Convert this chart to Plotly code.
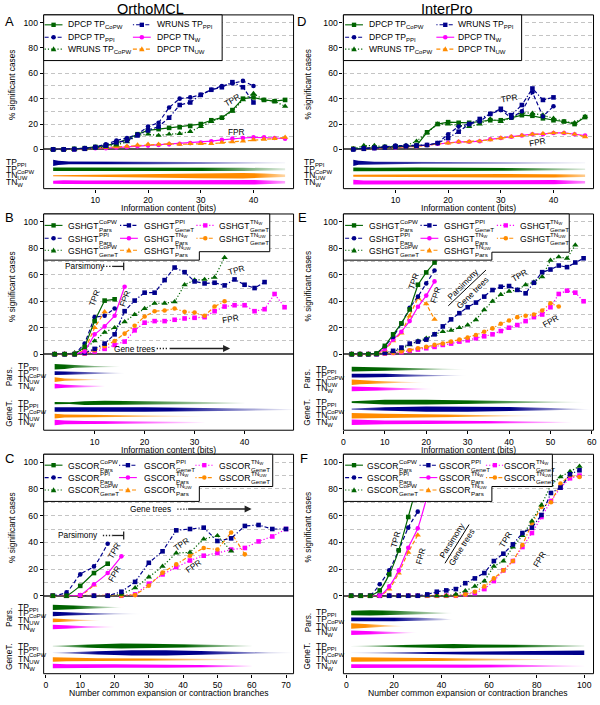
import plotly.graph_objects as go

# ======================= DATA =======================
# ---- Panel A : OrthoMCL, DPCP / WRUNS vs information content (bits)
A_x = [2, 4, 6, 8, 10, 12, 14, 16, 18, 20, 22, 24, 26, 28, 30, 32, 34, 36, 38, 40, 42, 44, 46]
A_x_ppi = [2, 4, 6, 8, 10, 12, 14, 16, 18, 20, 22, 24, 26, 28, 30, 32, 34, 36, 38, 40]
A_dpcp_copw = [0, 0, 0.5, 1, 2, 3, 5, 8, 12, 15, 16, 17, 17.5, 18.5, 20, 23, 25, 31, 40, 41, 39, 38, 39]
A_wruns_copw = [0, 0, 0, 0.5, 1, 2, 3.5, 6, 11, 12, 11, 12, 12.5, 14, 18, 22, 25, 30, 39, 44, 39, 38, 34]
A_dpcp_ppi = [0, 0, 0.5, 1, 2, 4, 7, 9, 12, 18, 21, 33, 40, 41, 43, 47, 50, 52, 54, 50]
A_wruns_ppi = [0, 0, 0, 0.5, 1.5, 3, 5.5, 7, 11, 15, 18, 25, 35, 37, 43, 47, 49, 53, 49, 37]
A_dpcp_tnw = [0, 0, 0, 0.5, 1, 1, 1.5, 2, 2.5, 3, 3.5, 4, 4.5, 5, 5.5, 6.5, 7.5, 8.5, 9, 9.5, 9.5, 9, 8.5]
A_dpcp_tnuw = [0, 0, 0, 0.5, 1, 1.5, 2, 2.5, 3.5, 4, 4, 4.5, 4, 4.5, 4.5, 4.5, 5.5, 6, 6.5, 7.5, 8, 8.5, 9.5]

# ---- Panel D : InterPro, DPCP / WRUNS
D_x = [2, 4, 6, 8, 10, 12, 14, 16, 18, 20, 22, 24, 26, 28, 30, 32, 34, 36, 38, 40, 42, 44, 46]
D_x_ppi = [2, 4, 6, 8, 10, 12, 14, 16, 18, 20, 22, 24, 26, 28, 30, 32, 34, 36, 38, 40]
D_dpcp_copw = [0.5, 1, 1.5, 2, 2.5, 2.5, 3, 13.5, 20, 21.5, 21, 21, 22, 23, 23, 25, 27, 26.5, 24.5, 23, 22, 20, 25.5]
D_wruns_copw = [0.5, 3, 3, 2, 2.5, 3, 6.5, 13, 20, 20, 19, 18, 20, 24, 22, 25, 29, 28.5, 27, 24.5, 22, 21, 26]
D_dpcp_ppi = [0, 1, 1.5, 2, 3, 3, 3, 3.5, 5, 12, 18, 20, 22, 28, 31, 25, 30, 45, 26, 34]
D_wruns_ppi = [0, 0.5, 1, 1.5, 2, 2.5, 3, 3.5, 5, 9, 14, 20, 24, 28, 32, 27, 35, 48, 39, 41]
D_dpcp_tnw = [0.5, 0.5, 1, 1.5, 1.5, 2, 2.5, 3.5, 4.5, 5.5, 6, 6, 6.5, 8, 9, 10, 11, 12, 12, 13, 13, 12, 11]
D_dpcp_tnuw = [0.5, 0.5, 1, 1.5, 1.5, 2, 2.5, 3, 4.5, 5, 6, 6, 6.5, 7.5, 9, 10, 11, 12, 12.5, 13, 13, 12, 10]

# ---- Panel B : OrthoMCL, GSHGT vs information content
B_x = [2, 4, 6, 8, 10, 12, 14, 16, 18, 20, 22, 24, 26, 28, 30, 32, 34, 36, 38, 40, 42, 44, 46, 48]
B_copw_pars = [0, 0, 0, 5.5, 25, 40.5, 41.5]
B_ppi_pars = [0, 0, 0, 8, 28, 29, 34.5]
B_tnw_pars = [0, 0, 0, 2, 15, 21, 29, 51]
B_tnuw_pars = [0, 0, 0, 3, 20, 32]
B_ppi_genet = [0, 0, 0, 1, 4, 8, 15, 32.5, 40.5, 46.5, 46.5, 56, 65.5, 62, 55, 53.5, 54, 52, 56.5, 52.5, 50, 54.5]
B_copw_genet = [0, 0, 1, 4, 10, 16.5, 20, 24.5, 30, 34.5, 38.5, 38.5, 39.5, 52.5, 56, 56.5, 58, 73]
B_tnw_genet = [0, 0, 0, 0.5, 2, 4, 7, 9.5, 18, 23.8, 25, 25, 26, 27, 27.5, 28, 32.5, 36, 37, 37, 32.5, 34, 45.5, 35.5]
B_tnuw_genet = [0, 0, 0, 0.5, 3, 6, 10, 15.5, 21.5, 28.5, 32.5, 33, 34.5, 32, 31.5, 29, 36, 40]

# ---- Panel E : InterPro, GSHGT
E_x = [2, 4, 6, 8, 10, 12, 14, 16, 18, 20, 22, 24, 26, 28, 30, 32, 34, 36, 38, 40, 42, 44, 46, 48, 50, 52, 54, 56, 58]
E_copw_pars = [0, 0, 0, 0.5, 6.3, 15, 23.3, 33.8, 52.5, 61.8, 69.3, 80]
E_ppi_pars = [0, 0, 0, 0.5, 6, 13, 23, 35, 43.5, 53.5, 63.3]
E_tnw_pars = [0, 0, 0, 0.5, 4, 11, 17, 25, 35.8, 44.3, 55]
E_tnuw_pars = [0, 0, 0, 0.5, 3, 10, 16, 28.8, 42.5, 38, 26.3]
E_ppi_genet = [0, 0, 0, 0, 1, 2.5, 5, 8, 9.5, 11, 15, 21, 26.3, 31, 35.5, 39, 43.5, 48.5, 51, 51.5,
               48.6, 46, 54, 62, 64, 67, 65.8, 69.3, 72.5]
E_copw_genet = [0, 0, 0, 0, 1, 2, 4, 7, 10, 12, 15, 17, 18, 20, 22, 26, 33.5, 40, 45, 47.5,
                48.5, 52.5, 54.5, 58.5, 71, 73.5, 72.5, 82.5]
E_tnw_genet = [0, 0, 0, 0, 0.5, 1, 1.5, 2.5, 3.5, 4.5, 5.5, 7, 8, 9.5, 10.5, 12, 13.5, 15, 17.5, 20,
               22, 25, 28, 30, 35.5, 45.5, 48, 46.5, 40]
E_tnuw_genet = [0, 0, 0, 0, 0.5, 1, 2, 3, 4.5, 5.5, 7, 8, 9.5, 11, 12.5, 14.5, 17, 19.5, 23, 25.5,
                28, 29, 30, 33, 38.5, 36]

# ---- Panel C : OrthoMCL, GSCOR vs number of common branches
C_x = [2, 6, 10, 14, 18, 22, 26, 30, 34, 38, 42, 46, 50, 54, 58, 62, 66, 70]
C_ppi_pars = [0, 2.5, 16, 22, 39]
C_copw_pars = [0, 0, 7.4, 17, 24]
C_tnw_pars = [0, 0, 0.5, 8.6, 17, 29.5]
C_tnuw_pars = [0, 0, 0, 8]
C_ppi_genet = [0, 0, 0, 0, 0, 3, 10.4, 24.7, 33.3, 49, 50, 51, 41, 43, 52.3, 53, 50, 50]
C_copw_genet = [0, 0, 0, 0, 0, 1, 6, 14, 22, 32, 32.5, 42.5, 45, 33.5]
C_tnw_genet = [0, 0, 0, 0, 0, 0, 1, 9, 16, 21.5, 26.4, 30, 32, 34.6, 35.8, 40.7, 44.4, 50]
C_tnuw_genet = [0, 0, 0, 0, 0, 0, 0.5, 7.5, 17.3, 23.5, 30, 35.8, 34.6, 47.4, 31]

# ---- Panel F : InterPro, GSCOR
F_x = [2, 6, 10, 14, 18, 22, 26, 30, 34, 38, 42, 46, 50, 54, 58, 62, 66, 70, 74, 78, 82, 86, 90, 94, 98]
F_copw_pars = [0, 0, 0, 4, 16, 34, 59, 85]
F_ppi_pars = [0, 0, 0, 8.6, 19, 34, 51, 63]
F_tnw_pars = [0, 0, 0, 0, 7, 19, 36, 50.5, 75]
F_tnuw_pars = [0, 0, 0, 0, 5, 17, 32.5, 45.5]
F_ppi_genet = [0, 0, 0, 0, 0, 0, 0, 0, 1, 3, 4, 5, 9.4, 13, 17, 26, 31.5, 38.5, 47, 51, 60.5, 77, 81, 91, 94]
F_copw_genet = [0, 0, 0, 0, 0, 0, 0, 0, 0, 0, 0, 1, 3.7, 7, 11, 22, 26, 36.5, 45, 56, 68, 83, 89, 93, 97]
F_tnw_genet = [0, 0, 0, 0, 0, 0, 0, 0, 0, 0, 0, 0, 1, 2, 5, 11, 19, 26, 36.5, 47, 59, 71, 81, 88, 90]
F_tnuw_genet = [0, 0, 0, 0, 0, 0, 0, 0, 0, 0, 0, 0, 1, 3, 7, 13, 19, 26, 38, 54, 66.5, 70, 84, 90, 89]

# ---- density strips: [x, half-width(px)] profiles and [x, opacity] fades
A_v_ppi = [[2, 3.2], [3, 2.2], [5, 1.4], [10, 1.3], [20, 1.3], [30, 1.2], [40, 0.8], [46, 0.4]]
A_f_ppi = [[2, 1], [12, 1], [46, 0.05]]
A_v_copw = [[2, 1.8], [10, 1.8], [30, 1.8], [38, 1.6], [46, 1.0]]
A_f_copw = [[2, 1], [30, 1], [46, 0.1]]
A_v_tnuw = [[2, 0.5], [6, 0.8], [14, 1.2], [22, 1.9], [30, 2.5], [38, 2.7], [42, 2.3], [46, 1.2]]
A_f_tnuw = [[2, 1], [40, 1], [46, 0.3]]
A_v_tnw = [[2, 1.5], [4, 1.9], [8, 1.7], [20, 1.9], [30, 2.3], [40, 2.3], [46, 1.2]]
A_f_tnw = [[2, 1], [40, 1], [46, 0.3]]

D_v_ppi = [[2, 3.2], [3, 2.0], [6, 1.2], [15, 1.0], [30, 0.9], [40, 0.6], [46, 0.3]]
D_f_ppi = [[2, 1], [8, 0.9], [46, 0.05]]
D_v_copw = [[2, 1.9], [6, 1.5], [14, 1.8], [20, 1.7], [30, 1.5], [40, 1.2], [46, 0.8]]
D_f_copw = [[2, 1], [30, 1], [46, 0.1]]
D_v_tnuw = [[2, 0.9], [10, 1.4], [20, 1.5], [30, 1.8], [40, 1.8], [46, 1.2]]
D_f_tnuw = [[2, 1], [40, 1], [46, 0.4]]
D_v_tnw = [[2, 2.4], [4, 1.8], [10, 1.7], [20, 1.9], [30, 2.1], [40, 2.1], [46, 1.2]]
D_f_tnw = [[2, 1], [40, 1], [46, 0.4]]

B_vp_1 = [[2, 2.8], [4, 2.3], [6, 1.2], [10, 0.6], [15, 0.2]]
B_fp_1 = [[2, 1], [4, 1], [15, 0]]
B_vp_2 = [[2, 2.0], [4, 1.6], [8, 1.0], [12, 0.6], [16, 0.2]]
B_fp_2 = [[2, 1], [4, 1], [16, 0]]
B_vp_3 = [[2, 2.4], [4, 1.2], [8, 0.6], [12, 0.2]]
B_fp_3 = [[2, 1], [3, 1], [12, 0]]
B_vp_4 = [[2, 2.4], [4, 1.6], [8, 0.8], [12, 0.4]]
B_fp_4 = [[2, 1], [4, 1], [13, 0]]
B_vg_1 = [[2, 1.2], [5, 1.0], [8, 1.9], [12, 2.3], [20, 1.9], [30, 1.2], [40, 0.6]]
B_fg_1 = [[2, 1], [15, 1], [40, 0]]
B_vg_2 = [[2, 2.3], [5, 2.5], [10, 2.3], [20, 2.3], [30, 1.9], [40, 1.2], [50, 0.3]]
B_fg_2 = [[2, 1], [25, 1], [50, 0]]
B_vg_3 = [[2, 2.4], [4, 1.6], [8, 1.2], [15, 0.9], [25, 0.6], [33, 0.2]]
B_fg_3 = [[2, 1], [10, 1], [33, 0]]
B_vg_4 = [[2, 2.7], [4, 1.9], [8, 1.5], [15, 1.4], [25, 0.9], [32, 0.4]]
B_fg_4 = [[2, 1], [12, 1], [33, 0]]

E_vp_1 = [[2, 2.4], [5, 2.0], [10, 1.6], [16, 1.0], [24, 0.4], [30, 0.2]]
E_fp_1 = [[2, 1], [10, 1], [30, 0]]
E_vp_2 = [[2, 2.0], [5, 2.0], [10, 2.0], [16, 1.2], [24, 0.4], [30, 0.2]]
E_fp_2 = [[2, 1], [10, 1], [30, 0]]
E_vp_3 = [[2, 2.7], [4, 2.0], [8, 1.2], [14, 0.6], [20, 0.2]]
E_fp_3 = [[2, 1], [6, 1], [22, 0]]
E_vp_4 = [[2, 2.4], [5, 2.0], [10, 1.6], [16, 0.8], [22, 0.2]]
E_fp_4 = [[2, 1], [8, 1], [22, 0]]
E_vg_1 = [[2, 0.8], [5, 1.2], [10, 2.3], [20, 2.3], [30, 1.9], [40, 1.4], [50, 0.8], [58, 0.2]]
E_fg_1 = [[2, 1], [30, 1], [58, 0]]
E_vg_2 = [[2, 0.6], [5, 1.2], [10, 1.9], [20, 2.7], [30, 2.7], [40, 2.2], [50, 1.2], [60, 0.2]]
E_fg_2 = [[2, 0.6], [10, 1], [40, 1], [60, 0]]
E_vg_3 = [[2, 2.7], [5, 2.3], [10, 1.9], [20, 1.6], [30, 1.2], [40, 0.6], [48, 0.2]]
E_fg_3 = [[2, 1], [25, 1], [48, 0]]
E_vg_4 = [[2, 2.7], [5, 2.2], [10, 1.9], [20, 1.8], [30, 1.6], [40, 1.2], [50, 0.6], [55, 0.2]]
E_fg_4 = [[2, 1], [35, 1], [55, 0]]

C_vp_1 = [[2, 2.7], [6, 2.3], [10, 1.6], [16, 0.8], [22, 0.2]]
C_fp_1 = [[2, 1], [8, 1], [22, 0]]
C_vp_2 = [[2, 2.3], [6, 1.6], [12, 0.8], [20, 0.4], [28, 0.2]]
C_fp_2 = [[2, 1], [6, 1], [28, 0]]
C_vp_3 = [[2, 2.0], [6, 1.2], [10, 0.6], [16, 0.2]]
C_fp_3 = [[2, 1], [4, 1], [16, 0]]
C_vp_4 = [[2, 2.3], [6, 1.6], [12, 0.8], [20, 0.2]]
C_fp_4 = [[2, 1], [6, 1], [20, 0]]
C_vg_1 = [[2, 0.4], [10, 1.2], [15, 1.9], [22, 2.5], [30, 2.3], [40, 1.6], [50, 0.9], [60, 0.5]]
C_fg_1 = [[2, 0.2], [12, 1], [40, 1], [60, 0]]
C_vg_2 = [[2, 0.2], [10, 0.8], [15, 1.6], [25, 2.7], [35, 2.7], [45, 1.9], [55, 0.8], [65, 0.4], [72, 0.2]]
C_fg_2 = [[2, 0.2], [15, 1], [45, 1], [72, 0]]
C_vg_3 = [[2, 2.3], [6, 1.9], [15, 1.2], [30, 0.9], [45, 0.6], [55, 0.4]]
C_fg_3 = [[2, 1], [30, 1], [55, 0]]
C_vg_4 = [[2, 2.3], [6, 1.9], [20, 1.8], [35, 1.6], [50, 1.2], [60, 0.6]]
C_fg_4 = [[2, 1], [45, 1], [62, 0]]

F_vp_1 = [[2, 2.3], [10, 2.7], [20, 2.3], [30, 1.6], [40, 0.8], [45, 0.2]]
F_fp_1 = [[2, 1], [15, 1], [45, 0]]
F_vp_2 = [[2, 1.9], [10, 1.9], [20, 1.9], [30, 1.6], [40, 0.8], [45, 0.2]]
F_fp_2 = [[2, 1], [20, 1], [45, 0]]
F_vp_3 = [[2, 2.7], [6, 2.3], [10, 1.6], [16, 0.8], [25, 0.2]]
F_fp_3 = [[2, 1], [8, 1], [25, 0]]
F_vp_4 = [[2, 2.3], [6, 1.9], [14, 1.6], [22, 0.8], [30, 0.2]]
F_fp_4 = [[2, 1], [10, 1], [30, 0]]
F_vg_1 = [[2, 0.2], [15, 0.8], [25, 1.4], [35, 1.7], [45, 2.2], [55, 1.7], [70, 1.2], [85, 0.9], [100, 0.8]]
F_fg_1 = [[2, 0.1], [25, 1], [70, 1], [100, 0.05]]
F_vg_2 = [[2, 0.2], [20, 0.6], [35, 1.2], [50, 1.7], [65, 1.9], [80, 2.3], [95, 2.3], [100, 2.3]]
F_fg_2 = [[2, 0.1], [35, 1], [100, 1]]
F_vg_3 = [[2, 2.3], [10, 2.2], [20, 1.9], [35, 1.6], [50, 1.2], [65, 0.8], [80, 0.4], [90, 0.2]]
F_fg_3 = [[2, 1], [40, 1], [90, 0]]
F_vg_4 = [[2, 1.9], [10, 1.9], [30, 1.8], [50, 1.6], [70, 1.4], [85, 0.9], [100, 0.4]]
F_fg_4 = [[2, 1], [60, 1], [100, 0]]

# ======================= STYLE / LAYOUT =======================
W, H = 600, 705
FONT = "Liberation Sans, Arial, sans-serif"
GREEN = (0, 100, 0)
NAVY = (0, 0, 139)
ORANGE = (255, 140, 0)
MAGENTA = (255, 0, 255)
SOLID = "solid"
DASH = "4px,2.5px"
DOT = "1.2px,2px"
DOTDASH = "1.2px,2px,4px,2px"
MSIZE = {"square": 4.6, "circle": 4.6, "triangle-up": 5.6}


def rgba(c, a=1.0):
    return "rgba(%d,%d,%d,%.3f)" % (c[0], c[1], c[2], a)


def PX(x):
    return x / W


def PY(y):
    return 1 - y / H


COLS = {"L": (42, 294), "R": (344.3, 596.5)}
ROWS = {1: (15, 150.5, 190), 2: (215.5, 356.7, 433.3), 3: (457.5, 600, 678.5)}
YTOP = 106
# x of strip labels: (two-group panels label x, group label x, single-group label x)
LABX = {"L": (15, 7, 3), "R": (316, 308, 304)}

PANELS = [
    dict(key="A", col="L", row=1, xr=[0.2, 47.6], xt=[10, 20, 30, 40], xtitle="Information content (bits)"),
    dict(key="B", col="L", row=2, xr=[-0.2, 49.8], xt=[10, 20, 30, 40], xtitle="Information content (bits)"),
    dict(key="C", col="L", row=3, xr=[-0.67, 72.2], xt=[0, 10, 20, 30, 40, 50, 60, 70],
         xtitle="Number common expansion or contraction branches"),
    dict(key="D", col="R", row=1, xr=[0.13, 47.6], xt=[10, 20, 30, 40], xtitle="Information content (bits)"),
    dict(key="E", col="R", row=2, xr=[0, 60.4], xt=[0, 10, 20, 30, 40, 50, 60], xtitle="Information content (bits)"),
    dict(key="F", col="R", row=3, xr=[-1.25, 103.9], xt=[0, 20, 40, 60, 80, 100],
         xtitle="Number common expansion or contraction branches"),
]

SERIES = {
    "A": [(A_x, A_dpcp_tnw, MAGENTA, SOLID, "circle"), (A_x, A_dpcp_tnuw, ORANGE, DASH, "triangle-up"),
          (A_x, A_wruns_copw, GREEN, DOT, "triangle-up"), (A_x, A_dpcp_copw, GREEN, SOLID, "square"),
          (A_x_ppi, A_wruns_ppi, NAVY, DOTDASH, "square"), (A_x_ppi, A_dpcp_ppi, NAVY, DASH, "circle")],
    "D": [(D_x, D_dpcp_tnw, MAGENTA, SOLID, "circle"), (D_x, D_dpcp_tnuw, ORANGE, DASH, "triangle-up"),
          (D_x, D_wruns_copw, GREEN, DOT, "triangle-up"), (D_x, D_dpcp_copw, GREEN, SOLID, "square"),
          (D_x_ppi, D_wruns_ppi, NAVY, DOTDASH, "square"), (D_x_ppi, D_dpcp_ppi, NAVY, DASH, "circle")],
    "B": [(B_x, B_tnw_genet, MAGENTA, DOT, "square"), (B_x, B_tnuw_genet, ORANGE, DOTDASH, "circle"),
          (B_x, B_copw_genet, GREEN, DOT, "triangle-up"), (B_x, B_ppi_genet, NAVY, DOTDASH, "square"),
          (B_x, B_tnuw_pars, ORANGE, DASH, "triangle-up"), (B_x, B_tnw_pars, MAGENTA, SOLID, "circle"),
          (B_x, B_ppi_pars, NAVY, DASH, "circle"), (B_x, B_copw_pars, GREEN, SOLID, "square")],
    "E": [(E_x, E_tnw_genet, MAGENTA, DOT, "square"), (E_x, E_tnuw_genet, ORANGE, DOTDASH, "circle"),
          (E_x, E_copw_genet, GREEN, DOT, "triangle-up"), (E_x, E_ppi_genet, NAVY, DOTDASH, "square"),
          (E_x, E_tnuw_pars, ORANGE, DASH, "triangle-up"), (E_x, E_tnw_pars, MAGENTA, SOLID, "circle"),
          (E_x, E_ppi_pars, NAVY, DASH, "circle"), (E_x, E_copw_pars, GREEN, SOLID, "square")],
    "C": [(C_x, C_tnw_genet, MAGENTA, DOT, "square"), (C_x, C_tnuw_genet, ORANGE, DOTDASH, "circle"),
          (C_x, C_copw_genet, GREEN, DOT, "triangle-up"), (C_x, C_ppi_genet, NAVY, DOTDASH, "square"),
          (C_x, C_tnuw_pars, ORANGE, DASH, "triangle-up"), (C_x, C_tnw_pars, MAGENTA, SOLID, "circle"),
          (C_x, C_ppi_pars, NAVY, DASH, "circle"), (C_x, C_copw_pars, GREEN, SOLID, "square")],
    "F": [(F_x, F_tnw_genet, MAGENTA, DOT, "square"), (F_x, F_tnuw_genet, ORANGE, DOTDASH, "circle"),
          (F_x, F_copw_genet, GREEN, DOT, "triangle-up"), (F_x, F_ppi_genet, NAVY, DOTDASH, "square"),
          (F_x, F_tnuw_pars, ORANGE, DASH, "triangle-up"), (F_x, F_tnw_pars, MAGENTA, SOLID, "circle"),
          (F_x, F_ppi_pars, NAVY, DASH, "circle"), (F_x, F_copw_pars, GREEN, SOLID, "square")],
}
SPLINE_PANELS = {"C", "F"}

ROW_A = [164, 170.5, 177, 183.5]
STRIPS = {
    "A": [(ROW_A[0], NAVY, A_v_ppi, A_f_ppi), (ROW_A[1], GREEN, A_v_copw, A_f_copw),
          (ROW_A[2], ORANGE, A_v_tnuw, A_f_tnuw), (ROW_A[3], MAGENTA, A_v_tnw, A_f_tnw)],
    "D": [(ROW_A[0], NAVY, D_v_ppi, D_f_ppi), (ROW_A[1], GREEN, D_v_copw, D_f_copw),
          (ROW_A[2], ORANGE, D_v_tnuw, D_f_tnuw), (ROW_A[3], MAGENTA, D_v_tnw, D_f_tnw)],
}
ROW_B = [369.3, 375.8, 382.3, 389, 406, 412.5, 419, 425.5]
ROW_E = [371.7, 378.3, 385, 391.7, 405, 412, 418.7, 425.3]
ROW_C = [611.7, 618.3, 624.8, 631.5, 650.7, 657.5, 664.2, 670.8]
ROW_F = [617.3, 623.8, 630.5, 637.2, 650.7, 657.5, 664.2, 670.8]
for key, rows in (("B", ROW_B), ("E", ROW_E), ("C", ROW_C), ("F", ROW_F)):
    g = globals()
    lst = []
    cols4 = [GREEN, NAVY, ORANGE, MAGENTA]
    for i in range(4):
        lst.append((rows[i], cols4[i], g["%s_vp_%d" % (key, i + 1)], g["%s_fp_%d" % (key, i + 1)]))
    for i in range(4):
        lst.append((rows[4 + i], cols4[i], g["%s_vg_%d" % (key, i + 1)], g["%s_fg_%d" % (key, i + 1)]))
    STRIPS[key] = lst
ROWPOS = {"A": ROW_A, "D": ROW_A, "B": ROW_B, "E": ROW_E, "C": ROW_C, "F": ROW_F}

fig = go.Figure()
layout = dict(width=W, height=H, margin=dict(l=0, r=0, t=0, b=0), plot_bgcolor="white",
              paper_bgcolor="white", font=dict(family=FONT, size=8.3, color="black"), showlegend=False)
shapes = []
annotations = []


def txt(x, y, s, size=8.3, angle=0, xanchor="center", yanchor="middle", align="center"):
    annotations.append(dict(x=PX(x), y=PY(y), xref="paper", yref="paper", text=s, showarrow=False,
                            font=dict(size=size, family=FONT, color="black"), textangle=angle,
                            xanchor=xanchor, yanchor=yanchor, align=align, borderpad=0))


def seg(x0, y0, x1, y1, color="black", width=1.0, dash="solid"):
    shapes.append(dict(type="line", xref="paper", yref="paper", x0=PX(x0), y0=PY(y0), x1=PX(x1), y1=PY(y1),
                       line=dict(color=color, width=width, dash=dash), layer="above"))


for idx, p in enumerate(PANELS):
    n = idx + 1
    xn = "x" if n == 1 else "x%d" % n
    yu_i, yl_i = 2 * n - 1, 2 * n
    yu = "y" if yu_i == 1 else "y%d" % yu_i
    yl = "y%d" % yl_i
    x0, x1 = COLS[p["col"]]
    ytop, yzero, ybot = ROWS[p["row"]]
    layout["xaxis" if n == 1 else "xaxis%d" % n] = dict(
        domain=[PX(x0), PX(x1)], range=p["xr"], anchor=yl, tickvals=p["xt"], ticks="outside", ticklen=3,
        tickwidth=1, tickcolor="black", showgrid=False, zeroline=False, showline=False,
        tickfont=dict(size=8.6, family=FONT))
    layout["yaxis" if yu_i == 1 else "yaxis%d" % yu_i] = dict(
        domain=[PY(yzero), PY(ytop)], range=[0, YTOP], anchor=xn, tickvals=[0, 20, 40, 60, 80, 100],
        ticks="outside", ticklen=3, tickwidth=1, tickcolor="black", showgrid=True, gridcolor="#c4c4c4",
        griddash="4px,3px", gridwidth=1, zeroline=True, zerolinecolor="#555555", zerolinewidth=1.8,
        showline=False, tickfont=dict(size=8.6, family=FONT),
        minor=dict(tickvals=[10, 30, 50, 70, 90], showgrid=True, gridcolor="#c4c4c4", griddash="4px,3px",
                   ticks=""))
    layout["yaxis%d" % yl_i] = dict(domain=[PY(ybot), PY(yzero)], range=[ybot, yzero], anchor=xn,
                                    visible=False, showgrid=False, zeroline=False)

    for (cy, col, prof, fade) in STRIPS[p["key"]]:
        xs = [q[0] for q in prof]
        hw = [q[1] for q in prof]
        X = xs + xs[::-1]
        Y = [cy - h for h in hw] + [cy + h for h in hw[::-1]]
        s0, s1 = xs[0], xs[-1]
        cs = []
        for fx, fa in fade:
            t = min(1.0, max(0.0, (fx - s0) / (s1 - s0)))
            cs.append([t, rgba(col, fa)])
        if cs[0][0] > 0:
            cs.insert(0, [0.0, cs[0][1]])
        if cs[-1][0] < 1:
            cs.append([1.0, cs[-1][1]])
        fig.add_trace(go.Scatter(x=X, y=Y, mode="lines", line=dict(width=0, shape="linear"),
                                 fill="toself", fillcolor=rgba(col, 0.8),
                                 fillgradient=dict(type="horizontal", colorscale=cs, start=s0, stop=s1),
                                 xaxis=xn, yaxis=yl, hoverinfo="skip", showlegend=False))

    for (sx, sy, col, dash, sym) in SERIES[p["key"]]:
        k = min(len(sx), len(sy))
        fig.add_trace(go.Scatter(
            x=sx[:k], y=sy[:k], mode="lines+markers",
            line=dict(color=rgba(col), width=1.2, dash=dash,
                      shape="spline" if (p["key"] in SPLINE_PANELS and dash in (SOLID, DASH)) else "linear",
                      smoothing=0.6),
            marker=dict(symbol=sym, size=MSIZE[sym], color=rgba(col), line=dict(width=0)),
            xaxis=xn, yaxis=yu, cliponaxis=False, hoverinfo="skip", showlegend=False))

    shapes.append(dict(type="rect", xref="paper", yref="paper", x0=PX(x0), x1=PX(x1), y0=PY(ybot), y1=PY(ytop),
                       line=dict(color="black", width=1), fillcolor="rgba(0,0,0,0)", layer="above"))

    txt((x0 + x1) / 2, ybot + 19.5, p["xtitle"], size=8.6)
    ytx = 10 if p["col"] == "L" else 309
    txt(ytx, (ytop + yzero) / 2 + 2, "% significant cases", angle=-90)

    lx2, gx, lx1 = LABX[p["col"]]
    rows = ROWPOS[p["key"]]
    labs = ["TP<sub>PPI</sub>", "TP<sub>CoPW</sub>", "TN<sub>UW</sub>", "TN<sub>W</sub>"]
    if len(rows) == 4:
        for r, l in zip(rows, labs):
            txt(lx1, r, l, size=8.5, xanchor="left")
    else:
        for r, l in zip(rows, labs + labs):
            txt(lx2, r, l, size=8.5, xanchor="left")
        txt(gx, sum(rows[:4]) / 4, "Pars.", angle=-90)
        txt(gx, sum(rows[4:]) / 4, "GeneT.", angle=-90)

txt(150, 9, "OrthoMCL", size=14.5)
txt(449, 9, "InterPro", size=14.5)
for L, (lx, ly) in {"A": (8, 22), "B": (8, 219), "C": (8, 462), "D": (302, 22), "E": (303, 219),
                    "F": (305, 462)}.items():
    txt(lx, ly, L, size=13)

CHARW = {"G": .778, "S": .667, "H": .722, "T": .611, "C": .722, "O": .778, "R": .722}


def legend(box, mx, tx, ry, entries, base_size=8.6):
    path = "M " + " L ".join("%.5f,%.5f" % (PX(a), PY(b)) for a, b in box) + " Z"
    shapes.append(dict(type="path", xref="paper", yref="paper", path=path, fillcolor="white",
                       line=dict(color="black", width=1), layer="above"))
    for e in entries:
        c, r, col, dash, sym = e[:5]
        x, y = mx[c], ry[r]
        seg(x - 9, y, x + 9, y, color=rgba(col), width=1.1, dash=dash)
        if sym == "square":
            shapes.append(dict(type="rect", xref="paper", yref="paper", x0=PX(x - 2.2), x1=PX(x + 2.2),
                               y0=PY(y + 2.2), y1=PY(y - 2.2), fillcolor=rgba(col), line=dict(width=0),
                               layer="above"))
        elif sym == "circle":
            shapes.append(dict(type="circle", xref="paper", yref="paper", x0=PX(x - 2.3), x1=PX(x + 2.3),
                               y0=PY(y + 2.3), y1=PY(y - 2.3), fillcolor=rgba(col), line=dict(width=0),
                               layer="above"))
        else:
            pth = "M %.5f,%.5f L %.5f,%.5f L %.5f,%.5f Z" % (PX(x - 2.8), PY(y + 2.2), PX(x + 2.8), PY(y + 2.2),
                                                          PX(x), PY(y - 2.8))
            shapes.append(dict(type="path", xref="paper", yref="paper", path=pth, fillcolor=rgba(col),
                               line=dict(width=0), layer="above"))
        if len(e) == 6:
            txt(tx[c], y, e[5], size=base_size, xanchor="left")
        else:
            base, sup, sub = e[5], e[6], e[7]
            txt(tx[c], y + 0.5, base, size=base_size, xanchor="left")
            wb = sum(CHARW.get(ch, .6) for ch in base) * base_size
            txt(tx[c] + wb + 0.5, y, sup + "<br>" + sub, size=6.2, xanchor="left", align="left")


LEG_AD = [(0, 0, GREEN, SOLID, "square", "DPCP TP<sub>CoPW</sub>"),
          (0, 1, NAVY, DASH, "circle", "DPCP TP<sub>PPI</sub>"),
          (0, 2, GREEN, DOT, "triangle-up", "WRUNS TP<sub>CoPW</sub>"),
          (1, 0, NAVY, DOTDASH, "square", "WRUNS TP<sub>PPI</sub>"),
          (1, 1, MAGENTA, SOLID, "circle", "DPCP TN<sub>W</sub>"),
          (1, 2, ORANGE, DASH, "triangle-up", "DPCP TN<sub>UW</sub>")]


def leg_g(name):
    return [(0, 0, GREEN, SOLID, "square", name, "CoPW", "Pars"),
            (0, 1, NAVY, DASH, "circle", name, "PPI", "Pars"),
            (0, 2, GREEN, DOT, "triangle-up", name, "CoPW", "GeneT"),
            (1, 0, NAVY, DOTDASH, "square", name, "PPI", "GeneT"),
            (1, 1, MAGENTA, SOLID, "circle", name, "TN<sub>W</sub>", "Pars"),
            (1, 2, ORANGE, DASH, "triangle-up", name, "TN<sub>UW</sub>", "Pars"),
            (2, 0, MAGENTA, DOT, "square", name, "TN<sub>W</sub>", "GeneT"),
            (2, 1, ORANGE, DOTDASH, "circle", name, "TN<sub>UW</sub>", "GeneT")]


legend([(42, 15), (222, 15), (222, 61), (42, 61)], [52, 141], [66, 155], [25, 37.5, 49.5], LEG_AD)
legend([(344.3, 15), (524, 15), (524, 61), (344.3, 61)], [355, 447], [369, 459], [25, 37.5, 49.5], LEG_AD)
legend([(42, 215.5), (270, 215.5), (270, 253.5), (199, 253.5), (199, 262), (42, 262)],
       [52, 128, 205], [66, 142, 218], [227, 240, 252], leg_g("GSHGT"))
legend([(344.3, 215.5), (572, 215.5), (572, 254), (494, 254), (494, 262), (344.3, 262)],
       [355, 431, 508], [369, 445, 521], [227, 240, 252], leg_g("GSHGT"))
legend([(42, 457.5), (273, 457.5), (273, 490), (199, 490), (199, 505), (42, 505)],
       [52, 127, 204], [66, 142, 218], [468.5, 481, 493.5], leg_g("GSCOR"))
legend([(344.3, 457.5), (555, 457.5), (555, 490), (494, 490), (494, 505), (344.3, 505)],
       [355, 430, 497], [367, 440, 505], [468.5, 481, 493.5], leg_g("GSCOR"))

for (x, y, s, a) in [(232, 101, "TPR", -30), (236, 133, "FPR", 0), (512, 99, "TPR", -10), (540, 143, "FPR", -10),
                     (93, 300, "TPR", -70), (124, 300, "FPR", -70), (236, 272, "TPR", -15), (230, 321, "FPR", -10),
                     (113, 555, "TPR", -60), (113, 578, "FPR", -60), (181, 548, "TPR", -35), (193, 570, "FPR", -35),
                     (415, 283, "TPR", -70), (437, 297, "FPR", -70), (522, 277, "TPR", -30), (553, 323, "FPR", -30),
                     (397, 543, "TPR", -75), (422, 560, "FPR", -75), (508, 543, "TPR", -60), (542, 563, "FPR", -60)]:
    txt(x, y, s, angle=a)


def pars_marker(tx, y, d0, d1, bar):
    txt(tx, y, "Parsimony")
    seg(d0, y, d1, y, color="#222222", width=1.3, dash="1.3px,1.7px")
    seg(d1, y, bar, y, color="#222222", width=1.3)
    seg(bar, y - 4, bar, y + 4, color="#222222", width=1.3)


def gene_marker(tx, y, d0, d1, head):
    txt(tx, y, "Gene trees")
    seg(d0, y, d1, y, color="#222222", width=1.3, dash="1.3px,1.7px")
    annotations.append(dict(x=PX(head), y=PY(y), xref="paper", yref="paper", text="", showarrow=True,
                            ax=d1 - head, ay=0, arrowhead=2, arrowsize=1, arrowwidth=1.4, arrowcolor="#222222"))


pars_marker(83.5, 268.3, 102, 112, 122.7)
gene_marker(134, 351, 156, 168, 230)
pars_marker(77, 539.3, 101.7, 111.7, 122.7)
gene_marker(150, 512.7, 176.7, 186.7, 251.7)

seg(450, 308, 488, 272, color="black", width=1)
txt(465, 286, "Parsimony", angle=-45)
txt(474, 295, "Gene trees", angle=-45)
seg(446.7, 567.3, 471, 528.3, color="black", width=1)
txt(454, 544, "Parsimony", angle=-58)
txt(463.5, 551, "Gene trees", angle=-58)

layout["shapes"] = shapes
layout["annotations"] = annotations
fig.update_layout(**layout)
fig.write_html("out.html", config={"displayModeBar": False, "responsive": False},
               post_script="document.body.style.margin='0';document.body.style.overflow='hidden';")
